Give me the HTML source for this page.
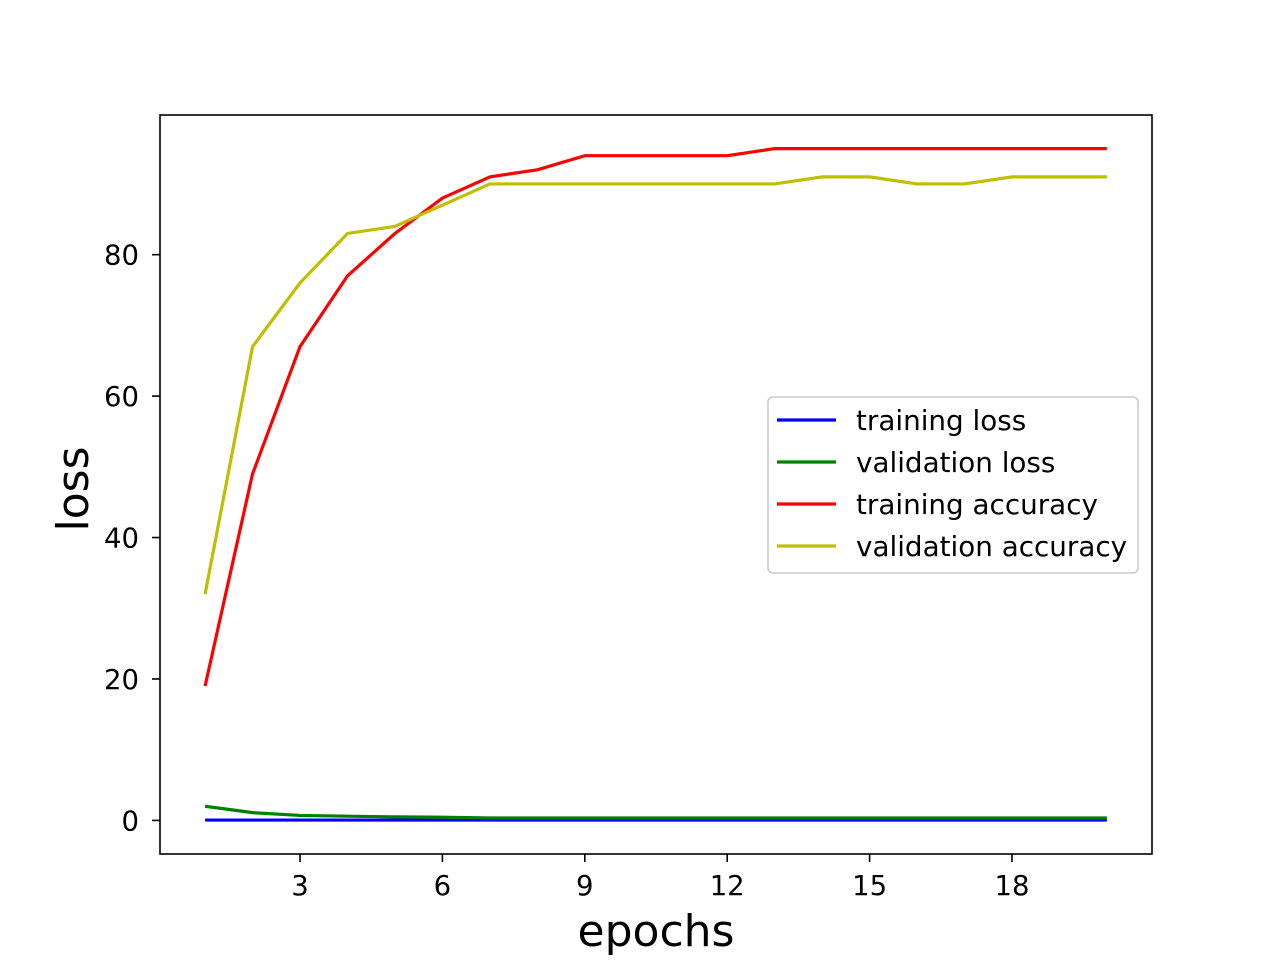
<!DOCTYPE html>
<html><head><meta charset="utf-8"><style>body{margin:0;background:#fff}svg{display:block}</style></head>
<body>
<svg id="chart" width="1280" height="960" xmlns="http://www.w3.org/2000/svg" font-family="DejaVu Sans, Liberation Sans, sans-serif">
<rect width="1280" height="960" fill="#fff"/>
<g id="marks"></g>
<rect x="160" y="115" width="992" height="739" fill="none" stroke="#000" stroke-width="1.6"/>
<g id="ticks"></g>
<text x="656" y="946" font-size="44" text-anchor="middle">epochs</text>
<text transform="translate(88,489) rotate(-90)" font-size="44" text-anchor="middle">loss</text>
<g>
<rect x="768" y="397" width="370" height="176" rx="5" fill="#fff" fill-opacity="0.8" stroke="#ccc" stroke-width="1.6"/>
<g id="legend-items"></g>
</g>
</svg>
<script>
const epochs=[1,2,3,4,5,6,7,8,9,10,11,12,13,14,15,16,17,18,19,20];
const trainLoss=[0.05,0.05,0.05,0.05,0.05,0.05,0.05,0.05,0.05,0.05,0.05,0.05,0.05,0.05,0.05,0.05,0.05,0.05,0.05,0.05];
const valLoss=[2,1.1,0.7,0.6,0.5,0.45,0.35,0.35,0.35,0.35,0.35,0.35,0.35,0.35,0.35,0.35,0.35,0.35,0.35,0.35];
const trainAcc=[19,49,67,77,83,88,91,92,94,94,94,94,95,95,95,95,95,95,95,95];
const valAcc=[32,67,76,83,84,87,90,90,90,90,90,90,90,91,91,90,90,91,91,91];
const xTicks=[3,6,9,12,15,18];
const yTicks=[0,20,40,60,80];
const seriesNames=["training loss","validation loss","training accuracy","validation accuracy"];
const seriesColors=["#0000ff","#008000","#ff0000","#bfbf00"];
const seriesData=[trainLoss,valLoss,trainAcc,valAcc];
const NS="http://www.w3.org/2000/svg";
const xmin=0.05,xmax=20.95,ymin=-4.75,ymax=99.75;
const X=v=>160+(v-xmin)/(xmax-xmin)*992;
const Y=v=>854-(v-ymin)/(ymax-ymin)*739;
function mk(tag,attrs,parent){const e=document.createElementNS(NS,tag);for(const k in attrs)e.setAttribute(k,attrs[k]);parent.appendChild(e);return e;}
const marks=document.getElementById('marks'),ticks=document.getElementById('ticks'),leg=document.getElementById('legend-items');
seriesData.forEach((d,i)=>{
 const p=mk('polyline',{points:d.map((v,j)=>X(epochs[j])+','+Y(v)).join(' '),fill:'none',stroke:seriesColors[i],'stroke-width':3.2},marks);
 
 
 const y=420+i*42;
 const l=mk('line',{x1:777,x2:836,y1:y,y2:y,stroke:seriesColors[i],'stroke-width':3.2},leg);
 
 
 const t=mk('text',{x:856,y:y+10,'font-size':27.8},leg);t.textContent=seriesNames[i];
 
 
});
xTicks.forEach(v=>{const x=X(v);
 mk('line',{x1:x,x2:x,y1:854,y2:862,stroke:'#000','stroke-width':1.6},ticks);
 const t=mk('text',{x:x,y:895,'font-size':27.5,'text-anchor':'middle'},ticks);t.textContent=v;
 
 
});
yTicks.forEach(v=>{const y=Y(v);
 mk('line',{x1:152,x2:160,y1:y,y2:y,stroke:'#000','stroke-width':1.6},ticks);
 const t=mk('text',{x:139,y:y+10,'font-size':27.5,'text-anchor':'end'},ticks);t.textContent=v;
 
 
});
</script>
</body></html>
